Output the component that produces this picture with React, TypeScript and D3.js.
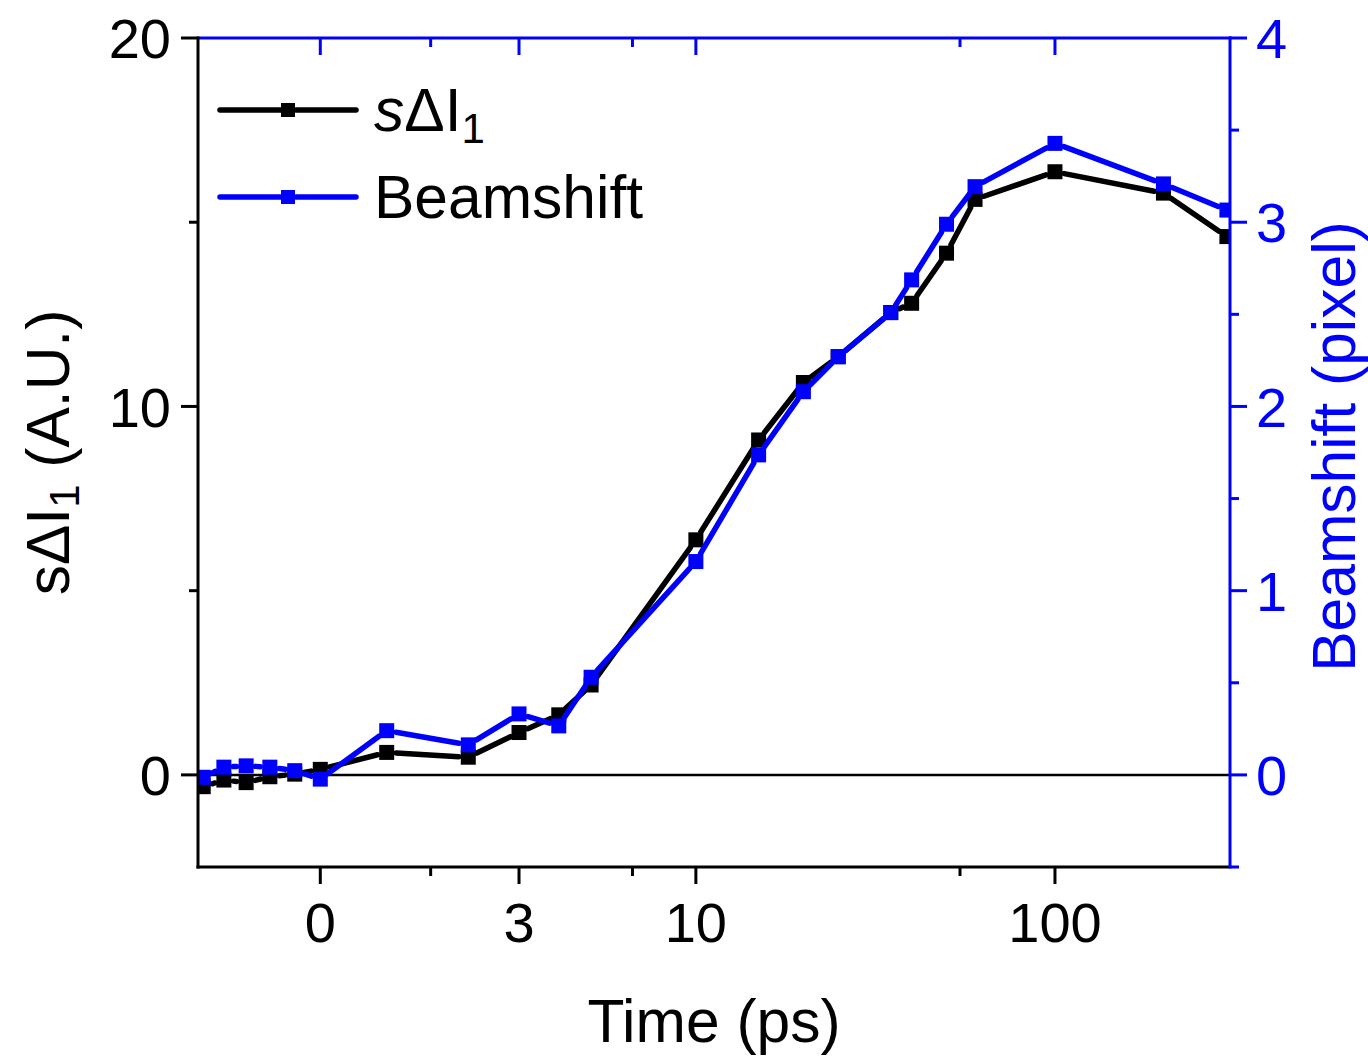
import React from "react";
import * as d3 from "d3";

// ---- data ----
const timePs = [-1.5, -1.2, -0.9, -0.6, -0.3, 0, 0.8, 2, 3, 4, 5, 10, 15, 20, 25, 35, 40, 50, 60, 100, 200, 300];
const sDeltaI1 = [-0.32, -0.14, -0.21, -0.05, 0.02, 0.15, 0.61, 0.48, 1.15, 1.63, 2.44, 6.38, 9.09, 10.65, 11.35, 12.55, 12.8, 14.16, 15.62, 16.37, 15.79, 14.61];
const beamshift = [-0.013, 0.042, 0.049, 0.042, 0.023, -0.023, 0.24, 0.163, 0.331, 0.266, 0.53, 1.158, 1.737, 2.08, 2.27, 2.509, 2.687, 2.989, 3.193, 3.428, 3.208, 3.066];

const xMajorTicks = [0, 3, 10, 100];
const xMajorLabels = ["0", "3", "10", "100"];
const xMinorTicks = [1.4, 6.6, 54.5];
const yLeftMajor = [0, 10, 20];
const yLeftMinor = [5, 15];
const yRightMajor = [0, 1, 2, 3, 4];
const yRightMinor = [-0.5, 0.5, 1.5, 2.5, 3.5];

const C = 1.83;
const BLUE = "#0000ff";
const FONT = "'Liberation Sans', Arial, sans-serif";

const L = 198, R = 1230, T = 38, B = 867;

export default function App() {
  const tr = (t: number) => Math.asinh(t / C);
  const xLin = d3.scaleLinear().domain([tr(-1.58), tr(306)]).range([L, R]);
  const x = (t: number) => xLin(tr(t));
  const yL = d3.scaleLinear().domain([-2.5, 20]).range([B, T]);
  const yR = d3.scaleLinear().domain([-0.5, 4]).range([B, T]);

  const ms = 15;
  const gap = ms / 2 + 2;

  const segments = (pts: [number, number][]) => {
    const segs: string[] = [];
    for (let i = 0; i < pts.length - 1; i++) {
      const [x0, y0] = pts[i];
      const [x1, y1] = pts[i + 1];
      const dx = x1 - x0, dy = y1 - y0;
      const len = Math.hypot(dx, dy);
      if (len <= 2 * gap) continue;
      const ux = dx / len, uy = dy / len;
      segs.push(`M${x0 + ux * gap},${y0 + uy * gap}L${x1 - ux * gap},${y1 - uy * gap}`);
    }
    return segs.join("");
  };

  const blackPts: [number, number][] = timePs.map((t, i) => [x(t), yL(sDeltaI1[i])]);
  const bluePts: [number, number][] = timePs.map((t, i) => [x(t), yR(beamshift[i])]);

  const TICK_FS = 56;
  const TITLE_FS = 60.5;

  return (
    <svg width={1368} height={1056} style={{ position: "absolute", left: 0, top: 0, background: "#fff" }} fontFamily={FONT}>
      <defs>
        <clipPath id="plot">
          <rect x={L} y={T} width={R - L} height={B - T} />
        </clipPath>
      </defs>
      {/* zero line */}
      <line x1={L} x2={R} y1={yL(0)} y2={yL(0)} stroke="#000" strokeWidth={2.5} />

      <g clipPath="url(#plot)">
        <path d={segments(blackPts)} stroke="#000" strokeWidth={5.5} fill="none" strokeLinecap="round" />
        {blackPts.map(([px, py], i) => (
          <rect key={"b" + i} x={px - ms / 2} y={py - ms / 2} width={ms} height={ms} fill="#000" />
        ))}
        <path d={segments(bluePts)} stroke={BLUE} strokeWidth={5.5} fill="none" strokeLinecap="round" />
        {bluePts.map(([px, py], i) => (
          <rect key={"u" + i} x={px - ms / 2} y={py - ms / 2} width={ms} height={ms} fill={BLUE} />
        ))}
      </g>

      {/* bottom axis */}
      <line x1={L - 1.5} x2={R} y1={B} y2={B} stroke="#000" strokeWidth={3} />
      {xMajorTicks.map((t, i) => (
        <g key={"xm" + i}>
          <line x1={x(t)} x2={x(t)} y1={B} y2={B + 17} stroke="#000" strokeWidth={3} />
          <line x1={x(t)} x2={x(t)} y1={T} y2={T + 17} stroke={BLUE} strokeWidth={3} />
          <text x={x(t)} y={942} textAnchor="middle" fontSize={TICK_FS} fill="#000">{xMajorLabels[i]}</text>
        </g>
      ))}
      {xMinorTicks.map((t, i) => (
        <g key={"xn" + i}>
          <line x1={x(t)} x2={x(t)} y1={B} y2={B + 9} stroke="#000" strokeWidth={3} />
          <line x1={x(t)} x2={x(t)} y1={T} y2={T + 9} stroke={BLUE} strokeWidth={3} />
        </g>
      ))}
      {/* top axis */}
      <line x1={L} x2={R + 1.5} y1={T} y2={T} stroke={BLUE} strokeWidth={3} />

      {/* left axis */}
      <line x1={L} x2={L} y1={T - 1.5} y2={B + 1.5} stroke="#000" strokeWidth={3} />
      {yLeftMajor.map((v) => (
        <g key={"yl" + v}>
          <line x1={L - 17} x2={L} y1={yL(v)} y2={yL(v)} stroke="#000" strokeWidth={3} />
          <text x={171} y={yL(v)} dy="0.36em" textAnchor="end" fontSize={TICK_FS} fill="#000">{v}</text>
        </g>
      ))}
      {yLeftMinor.map((v) => (
        <line key={"yln" + v} x1={L - 9} x2={L} y1={yL(v)} y2={yL(v)} stroke="#000" strokeWidth={3} />
      ))}

      {/* right axis */}
      <line x1={R} x2={R} y1={T - 1.5} y2={B + 1.5} stroke={BLUE} strokeWidth={3} />
      {yRightMajor.map((v) => (
        <g key={"yr" + v}>
          <line x1={R} x2={R + 17} y1={yR(v)} y2={yR(v)} stroke={BLUE} strokeWidth={3} />
          <text x={1256} y={yR(v)} dy="0.36em" textAnchor="start" fontSize={TICK_FS} fill={BLUE}>{v}</text>
        </g>
      ))}
      {yRightMinor.map((v) => (
        <line key={"yrn" + v} x1={R} x2={R + 9} y1={yR(v)} y2={yR(v)} stroke={BLUE} strokeWidth={3} />
      ))}

      {/* axis titles */}
      <text x={(L + R) / 2} y={1042} textAnchor="middle" fontSize={TITLE_FS} fill="#000">Time (ps)</text>
      <text transform={`translate(69,${(T + B) / 2}) rotate(-90)`} textAnchor="middle" fontSize={TITLE_FS} fill="#000">
        sΔI<tspan dy={10} fontSize={42}>1</tspan><tspan dy={-10}> (A.U.)</tspan>
      </text>
      <text transform={`translate(1355,${(T + B) / 2 - 6}) rotate(-90)`} textAnchor="middle" fontSize={TITLE_FS} fill={BLUE}>
        Beamshift (pixel)
      </text>

      {/* legend */}
      <g>
        <line x1={220} x2={281} y1={110} y2={110} stroke="#000" strokeWidth={5.5} strokeLinecap="round" />
        <line x1={296} x2={356} y1={110} y2={110} stroke="#000" strokeWidth={5.5} strokeLinecap="round" />
        <rect x={288 - 7} y={110 - 7} width={14} height={14} fill="#000" />
        <text x={374} y={131} fontSize={60.5} fill="#000">
          <tspan fontStyle="italic">s</tspan>ΔI<tspan dy={12} fontSize={42}>1</tspan>
        </text>
        <line x1={220} x2={281} y1={197} y2={197} stroke={BLUE} strokeWidth={5.5} strokeLinecap="round" />
        <line x1={296} x2={356} y1={197} y2={197} stroke={BLUE} strokeWidth={5.5} strokeLinecap="round" />
        <rect x={288 - 7} y={197 - 7} width={14} height={14} fill={BLUE} />
        <text x={374} y={218} fontSize={60.5} fill="#000">Beamshift</text>
      </g>
    </svg>
  );
}
